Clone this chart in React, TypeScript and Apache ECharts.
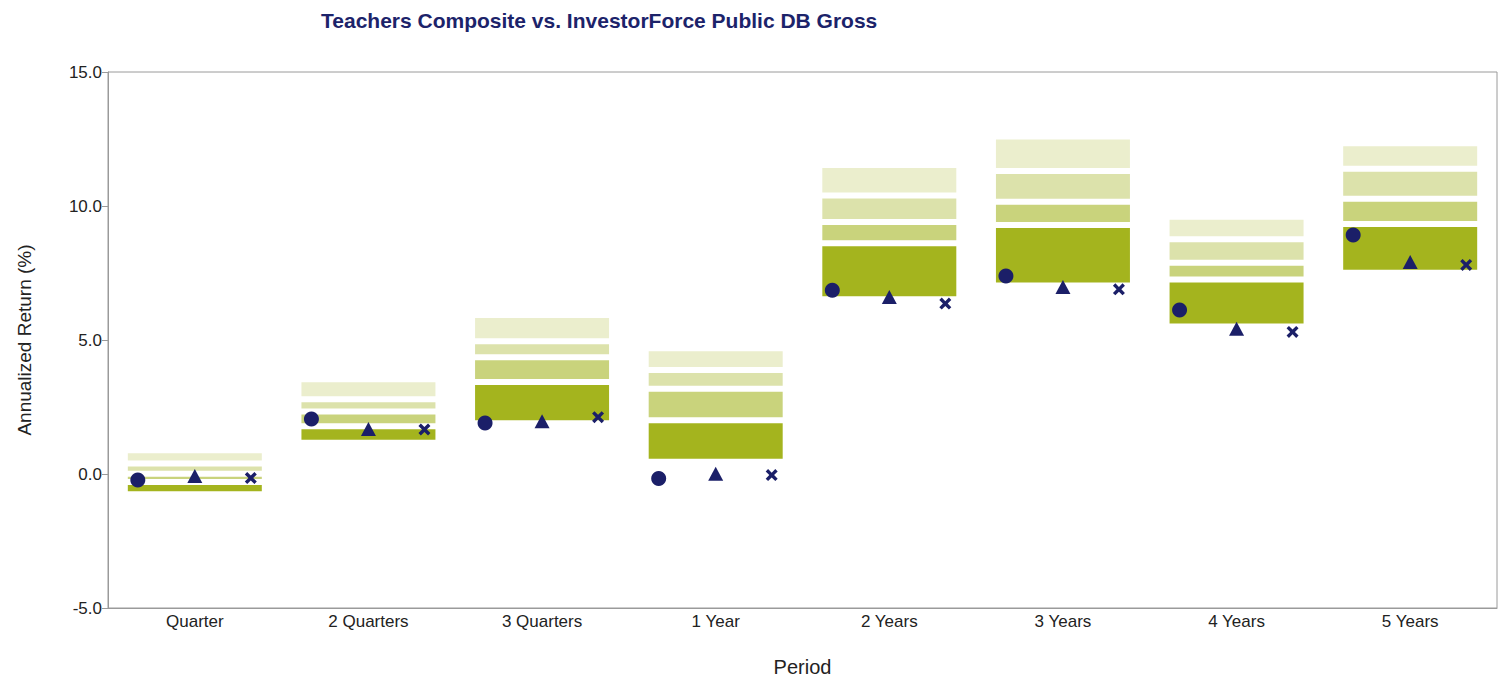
import React, { useEffect, useRef } from "react";
import * as echarts from "echarts";

const categories = ["Quarter", "2 Quarters", "3 Quarters", "1 Year", "2 Years", "3 Years", "4 Years", "5 Years"];
// Universe percentiles (top of band = 5th percentile, bottom = 95th percentile)
const p5 = [0.89, 3.54, 5.93, 4.69, 11.53, 12.59, 9.6, 12.34];
const p25 = [0.39, 2.79, 4.95, 3.88, 10.39, 11.31, 8.76, 11.39];
const p50 = [0.01, 2.33, 4.36, 3.18, 9.4, 10.16, 7.88, 10.27];
const p75 = [-0.3, 1.78, 3.43, 2.01, 8.61, 9.29, 7.26, 9.33];
const p95 = [-0.76, 1.17, 1.89, 0.46, 6.52, 7.03, 5.5, 7.51];
// Markers
const circleValues = [-0.22, 2.05, 1.9, -0.17, 6.86, 7.39, 6.12, 8.92];
const triangleValues = [-0.07, 1.68, 1.97, 0.01, 6.6, 6.98, 5.42, 7.91];
const crossValues = [-0.15, 1.66, 2.12, -0.04, 6.36, 6.89, 5.3, 7.8];
const yTicks = [-5, 0, 5, 10, 15];

const crossPath = "path://M2,0 L5,3 L8,0 L10,2 L7,5 L10,8 L8,10 L5,7 L2,10 L0,8 L3,5 L0,2 Z";

export default function App() {
  const ref = useRef<HTMLDivElement>(null);
  useEffect(() => {
    if (!ref.current) return;
    const chart = echarts.init(ref.current, null, { renderer: "svg" });
    const diff = (a: number[], b: number[]) => a.map((v, i) => +(v - b[i]).toFixed(3));
    const bandColors = ["#a4b41e", "#c9d37c", "#dce2ab", "#ebeecd"];
    const bandData = [diff(p75, p95), diff(p50, p75), diff(p25, p50), diff(p5, p25)];
    const navy = "#1b1f68";
    const font = "'Liberation Sans', Arial, sans-serif";
    const barSeries: any[] = [
      {
        type: "bar",
        stack: "u",
        stackStrategy: "all",
        data: p95,
        barWidth: 140,
        itemStyle: { color: "rgba(0,0,0,0)", borderWidth: 0 },
        silent: true,
      },
      ...bandData.map((d, k) => ({
        type: "bar",
        stack: "u",
        stackStrategy: "all",
        data: d,
        barWidth: 140,
        itemStyle: { color: bandColors[k], borderColor: "#ffffff", borderWidth: 3 },
      })),
    ];
    const markerStyle = { color: navy, opacity: 1 };
    chart.setOption({
      animation: false,
      backgroundColor: "#ffffff",
      title: {
        text: "Teachers Composite vs. InvestorForce Public DB Gross",
        left: 316,
        top: 5,
        textStyle: {
          color: "#1c236a",
          fontSize: 21,
          fontWeight: "bold",
          fontFamily: "'Liberation Sans Narrow', 'Arial Narrow', sans-serif",
        },
      },
      grid: {
        left: 108,
        right: 4,
        top: 72,
        bottom: 72,
        outerBoundsMode: "none",
        containLabel: false,
        show: true,
        borderColor: "#9a9a9a",
        borderWidth: 1,
        backgroundColor: "transparent",
      },
      xAxis: {
        type: "category",
        data: categories,
        name: "Period",
        nameLocation: "middle",
        nameGap: 49,
        nameTextStyle: { color: "#222", fontSize: 20, fontFamily: font },
        axisLine: { onZero: false, lineStyle: { color: "#9a9a9a" } },
        axisTick: { show: false },
        axisLabel: { color: "#222", fontSize: 17, margin: 5, fontFamily: font },
      },
      yAxis: {
        type: "value",
        min: yTicks[0],
        max: yTicks[yTicks.length - 1],
        interval: 5,
        name: "Annualized Return (%)",
        nameLocation: "middle",
        nameGap: 74,
        nameTextStyle: { color: "#222", fontSize: 19, fontFamily: font },
        axisLine: { show: true, lineStyle: { color: "#9a9a9a" } },
        axisTick: { show: true, length: 6, lineStyle: { color: "#9a9a9a" } },
        splitLine: { show: false },
        axisLabel: {
          color: "#222",
          fontSize: 17,
          margin: 6,
          fontFamily: font,
          formatter: (v: number) => v.toFixed(1),
        },
      },
      series: [
        ...barSeries,
        {
          type: "scatter",
          data: circleValues,
          symbol: "circle",
          symbolSize: 15,
          symbolOffset: [-57, 0],
          itemStyle: markerStyle,
          z: 5,
        },
        {
          type: "scatter",
          data: triangleValues,
          symbol: "triangle",
          symbolSize: [15, 14],
          itemStyle: markerStyle,
          z: 5,
        },
        {
          type: "scatter",
          data: crossValues,
          symbol: crossPath,
          symbolSize: 12,
          symbolOffset: [56, 0],
          itemStyle: markerStyle,
          z: 5,
        },
      ],
    });
    return () => chart.dispose();
  }, []);
  return <div ref={ref} style={{ width: 1501, height: 680, position: "absolute", left: 0, top: 0 }} />;
}
